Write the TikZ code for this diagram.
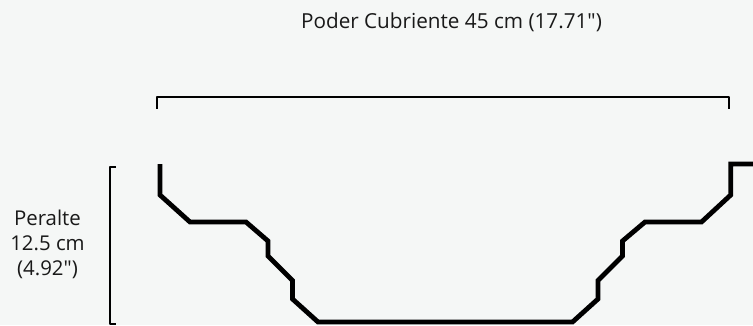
\documentclass[tikz,border=0pt]{standalone}
\usepackage{fontspec}
\setmainfont{Open Sans}[Ligatures=TeXOff]
\definecolor{bgc}{HTML}{F5F7F6}
\tikzset{
  profile/.style={line width=4.8pt,line join=miter,black},
  bracket/.style={line width=2pt,line join=round,black},
  lbl/.style={inner sep=0pt,align=center,font=\fontsize{20.4}{25}\selectfont,text=black!90}
}
\begin{document}
\begin{tikzpicture}[x=1pt,y=-1pt]
\fill[bgc] (0,0) rectangle (753,325);
\useasboundingbox (0,0) rectangle (753,325);
\node[lbl,font=\fontsize{20.7}{25}\selectfont] (title) at (451.5,22) {Poder Cubriente 45 cm (17.71")};
\node[lbl] (peralte) at (47.5,244.5) {Peralte\\12.5 cm\\(4.92")};
\draw[bracket] (157.3,108.7) -- (157.3,97.3) -- (728.7,97.3) -- (728.7,108.7);
\draw[bracket] (116,167) -- (110,167) -- (110,323.7) -- (116,323.7);
\draw[profile] (160,164) -- (160,195) -- (190,222) -- (246,222) -- (268,241) -- (268,256) -- (292.5,280.5) -- (292.5,299) -- (318,322) -- (572.5,322) -- (598,299) -- (598,280.5) -- (622.5,256) -- (622.5,241) -- (645,222) -- (701.5,222) -- (730.7,195) -- (730.7,164) -- (753,164);
\end{tikzpicture}
\end{document}
